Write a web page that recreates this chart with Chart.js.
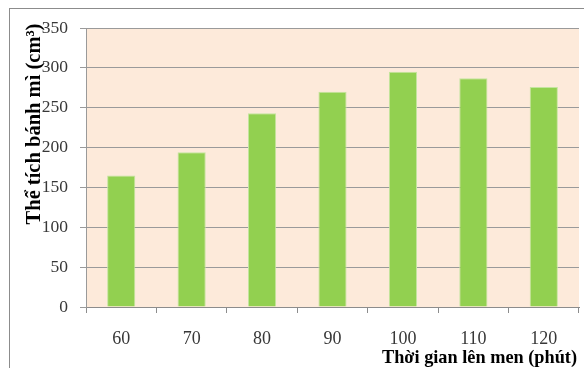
<!DOCTYPE html>
<html>
<head>
<meta charset="utf-8">
<script src="https://cdn.jsdelivr.net/npm/chart.js@4.4.1/dist/chart.umd.min.js"></script>
<style>
  html, body { margin: 0; padding: 0; background: #ffffff; }
  #wrap { position: relative; width: 584px; height: 368px; overflow: hidden; }
  #frame { position: absolute; left: 9px; top: 8px; width: 600px; height: 400px;
           border: 1px solid #8c8c8c; box-sizing: border-box; }
  canvas { position: absolute; left: 0; top: 0; }
</style>
</head>
<body>
<div id="wrap">
  <div id="frame"></div>
  <canvas id="c" width="584" height="368"></canvas>
</div>
<script>
// Fermentation time (minutes) and resulting bread volume (cm³)
const fermentTimes = ['60', '70', '80', '90', '100', '110', '120'];
const breadVolumes = [165, 194, 243, 270, 295, 287, 276];
const yTicks = [0, 50, 100, 150, 200, 250, 300, 350];

const yTitle = 'Thể tích bánh mì (cm³)';
const xTitle = 'Thời gian lên men (phút)';

const serif = '"Liberation Serif", "Times New Roman", serif';

// Fill the plot area and draw the two axis titles
const plotDecor = {
  id: 'plotDecor',
  beforeDraw(chart) {
    const { ctx, chartArea: a } = chart;
    ctx.save();
    ctx.fillStyle = '#fdeada';
    ctx.fillRect(a.left, a.top, a.right - a.left, a.bottom - a.top);
    ctx.restore();
  },
  afterDraw(chart) {
    const { ctx } = chart;
    ctx.save();
    ctx.fillStyle = '#000000';
    ctx.font = 'bold 20.5px ' + serif;
    ctx.textBaseline = 'alphabetic';
    ctx.textAlign = 'center';
    ctx.translate(39.5, 124);
    ctx.rotate(-Math.PI / 2);
    ctx.fillText(yTitle, 0, 0);
    ctx.restore();

    ctx.save();
    ctx.fillStyle = '#000000';
    ctx.font = 'bold 18.3px ' + serif;
    ctx.textBaseline = 'alphabetic';
    ctx.textAlign = 'right';
    ctx.fillText(xTitle, 577, 363);
    ctx.restore();
  }
};

new Chart(document.getElementById('c'), {
  type: 'bar',
  data: {
    labels: fermentTimes,
    datasets: [{
      data: breadVolumes,
      backgroundColor: '#92d050',
      borderColor: '#c4e59f',
      borderWidth: 1,
      categoryPercentage: 1,
      barPercentage: 0.4
    }]
  },
  options: {
    responsive: false,
    animation: false,
    events: [],
    layout: { padding: { left: 0, top: 28, right: 5, bottom: 0 } },
    plugins: { legend: { display: false }, tooltip: { enabled: false } },
    scales: {
      x: {
        afterFit(scale) { scale.height = 61; },
        grid: {
          offset: true,
          drawOnChartArea: false,
          drawTicks: true,
          tickLength: 6,
          color: '#8c8c8c'
        },
        border: { display: true, color: '#8c8c8c', width: 1 },
        ticks: {
          color: '#383838',
          padding: 15,
          font: { family: serif, size: 18 }
        }
      },
      y: {
        min: 0,
        max: 350,
        afterFit(scale) { scale.width = 86; },
        afterBuildTicks(scale) { scale.ticks = yTicks.map(v => ({ value: v })); },
        grid: {
          color: '#9a9a9a',
          tickLength: 6
        },
        border: { display: true, color: '#9a9a9a', width: 1 },
        ticks: {
          color: '#383838',
          padding: 12,
          font: { family: serif, size: 17.5 }
        }
      }
    }
  },
  plugins: [plotDecor]
});
</script>
</body>
</html>
